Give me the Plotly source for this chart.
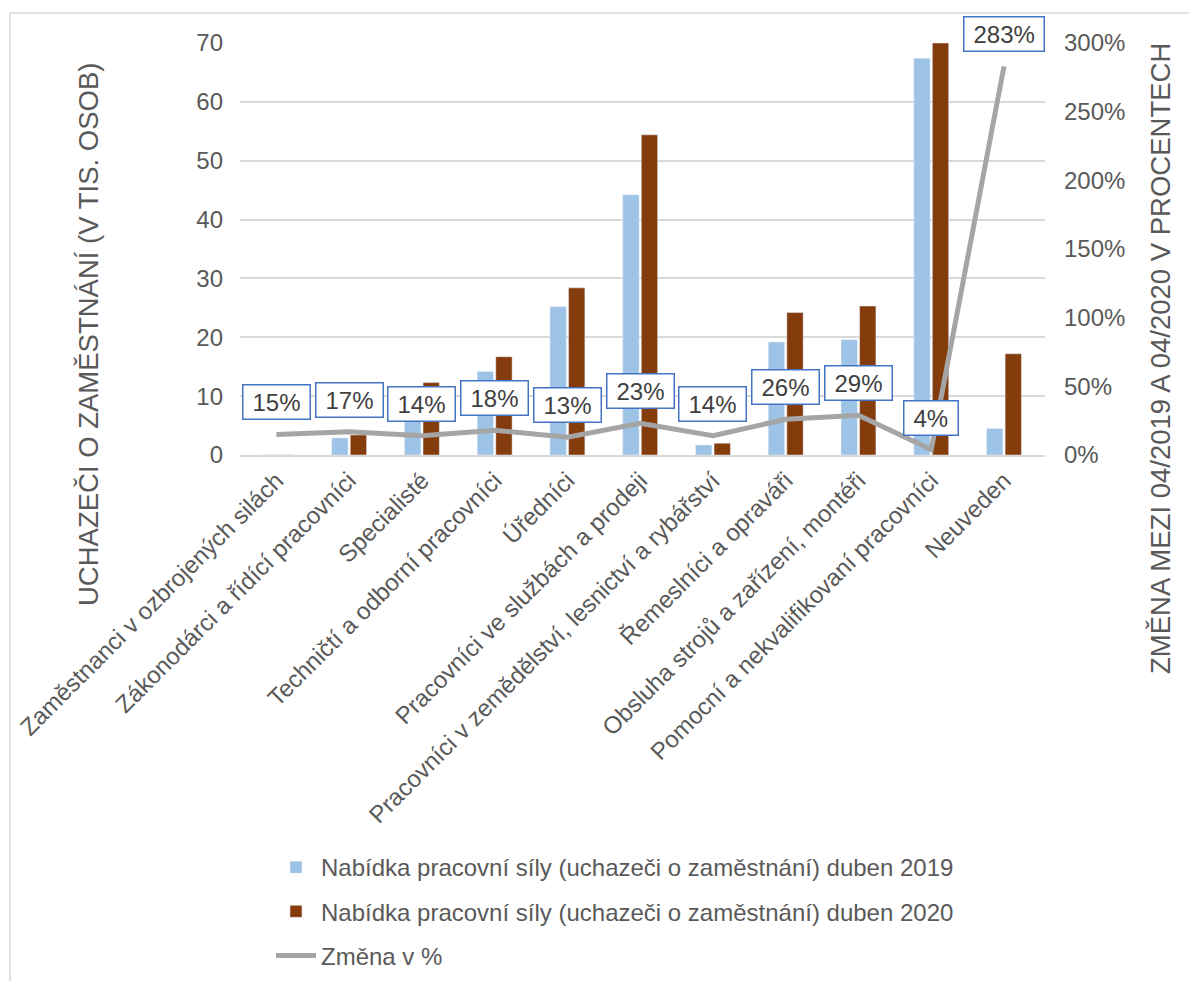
import plotly.graph_objects as go

# Job-seeker counts by occupation group (thousands) and year-on-year change
categories = [
    "Zaměstnanci v ozbrojených silách",
    "Zákonodárci a řídící pracovníci",
    "Specialisté",
    "Techničtí a odborní pracovníci",
    "Úředníci",
    "Pracovníci ve službách a prodeji",
    "Pracovníci v zemědělství, lesnictví a rybářství",
    "Řemeslníci a opraváři",
    "Obsluha strojů a zařízení, montéři",
    "Pomocní a nekvalifikovaní pracovníci",
    "Neuveden",
]
seekers_2019 = [0.02, 2.9, 10.8, 14.2, 25.2, 44.2, 1.7, 19.2, 19.6, 67.4, 4.5]
seekers_2020 = [0.02, 3.4, 12.3, 16.7, 28.4, 54.4, 2.0, 24.2, 25.3, 70.0, 17.2]
change_pct = [15, 17, 14, 18, 13, 23, 14, 26, 29, 4, 283]

name_2019 = "Nabídka pracovní síly (uchazeči o zaměstnání) duben 2019"
name_2020 = "Nabídka pracovní síly (uchazeči o zaměstnání) duben 2020"
name_change = "Změna v %"

FONT = "Liberation Sans, Arial, sans-serif"
TXT = "#595959"
FS = 24
TITLE_FS = 27.5

# Figure pixel geometry
W, H = 1189, 981
ML, MR, MT, MB = 240, 144, 43, 526
PW, PH = W - ML - MR, H - MT - MB


def px_x(x):
    return (x - ML) / PW


def px_y(y):
    return (H - MB - y) / PH


fig = go.Figure()
fig.add_trace(go.Bar(x=categories, y=seekers_2019, name=name_2019,
                     marker_color="#9DC3E6", legendgroup="a"))
fig.add_trace(go.Bar(x=categories, y=seekers_2020, name=name_2020,
                     marker_color="#843C0C", legendgroup="b"))
fig.add_trace(go.Scatter(x=categories, y=change_pct, name=name_change, yaxis="y2",
                         mode="lines", line=dict(color="#A5A5A5", width=5),
                         legendgroup="c"))


def text_width(s, size=FS):
    w = 0
    for ch in s:
        w += 0.889 if ch == "%" else 0.556
    return w * size


annotations = []
for cat, val in zip(categories, change_pct):
    label = f"{val}%"
    annotations.append(dict(
        x=cat, y=val, xref="x", yref="y2", text=label, showarrow=False,
        yshift=32, xanchor="center", yanchor="middle",
        font=dict(size=FS, color="#404040", family=FONT),
        bgcolor="white", bordercolor="#4472C4", borderwidth=1.5,
        borderpad=3, width=text_width(label) + 12,
    ))

annotations.append(dict(
    x=px_x(88), y=px_y(335), xref="paper", yref="paper", showarrow=False,
    xanchor="center", yanchor="middle",
    text="UCHAZEČI O ZAMĚSTNÁNÍ (V TIS. OSOB)", textangle=-90,
    font=dict(size=TITLE_FS, color=TXT, family=FONT),
))
annotations.append(dict(
    x=px_x(1160), y=px_y(359), xref="paper", yref="paper", showarrow=False,
    xanchor="center", yanchor="middle",
    text="ZMĚNA MEZI 04/2019 A 04/2020 V PROCENTECH", textangle=-90,
    font=dict(size=TITLE_FS, color=TXT, family=FONT),
))

shapes = [
    dict(type="line", xref="paper", yref="paper", x0=px_x(10), x1=px_x(10),
         y0=px_y(13), y1=px_y(H + 5), line=dict(color="#D9D9D9", width=1.5)),
    dict(type="line", xref="paper", yref="paper", x0=px_x(10), x1=px_x(W + 5),
         y0=px_y(13), y1=px_y(13), line=dict(color="#D9D9D9", width=1.5)),
]

fig.update_layout(
    width=W, height=H,
    margin=dict(l=ML, r=MR, t=MT, b=MB, autoexpand=False),
    paper_bgcolor="white", plot_bgcolor="white",
    font=dict(family=FONT, color=TXT, size=FS),
    barmode="group", bargap=0.49, bargroupgap=0.12,
    xaxis=dict(tickangle=-45, tickfont=dict(size=FS, color=TXT),
               showline=True, linecolor="#D9D9D9", linewidth=2,
               ticks="", showgrid=False, automargin=False),
    yaxis=dict(range=[0, 70], dtick=10, showgrid=True, gridcolor="#D9D9D9",
               gridwidth=1.5, zeroline=False, ticks="", showline=False,
               tickfont=dict(size=FS, color=TXT), ticklabelstandoff=16,
               automargin=False),
    yaxis2=dict(range=[0, 300], dtick=50, overlaying="y", side="right",
                ticksuffix="%", showgrid=False, zeroline=False, ticks="",
                tickfont=dict(size=FS, color=TXT), ticklabelstandoff=18,
                automargin=False),
    legend=dict(x=px_x(271), y=px_y(845), xanchor="left", yanchor="top",
                orientation="v", font=dict(size=FS, color=TXT, family=FONT),
                tracegroupgap=10, itemwidth=40, bgcolor="rgba(0,0,0,0)"),
    annotations=annotations,
    shapes=shapes,
)

fig.write_html("out.html")
